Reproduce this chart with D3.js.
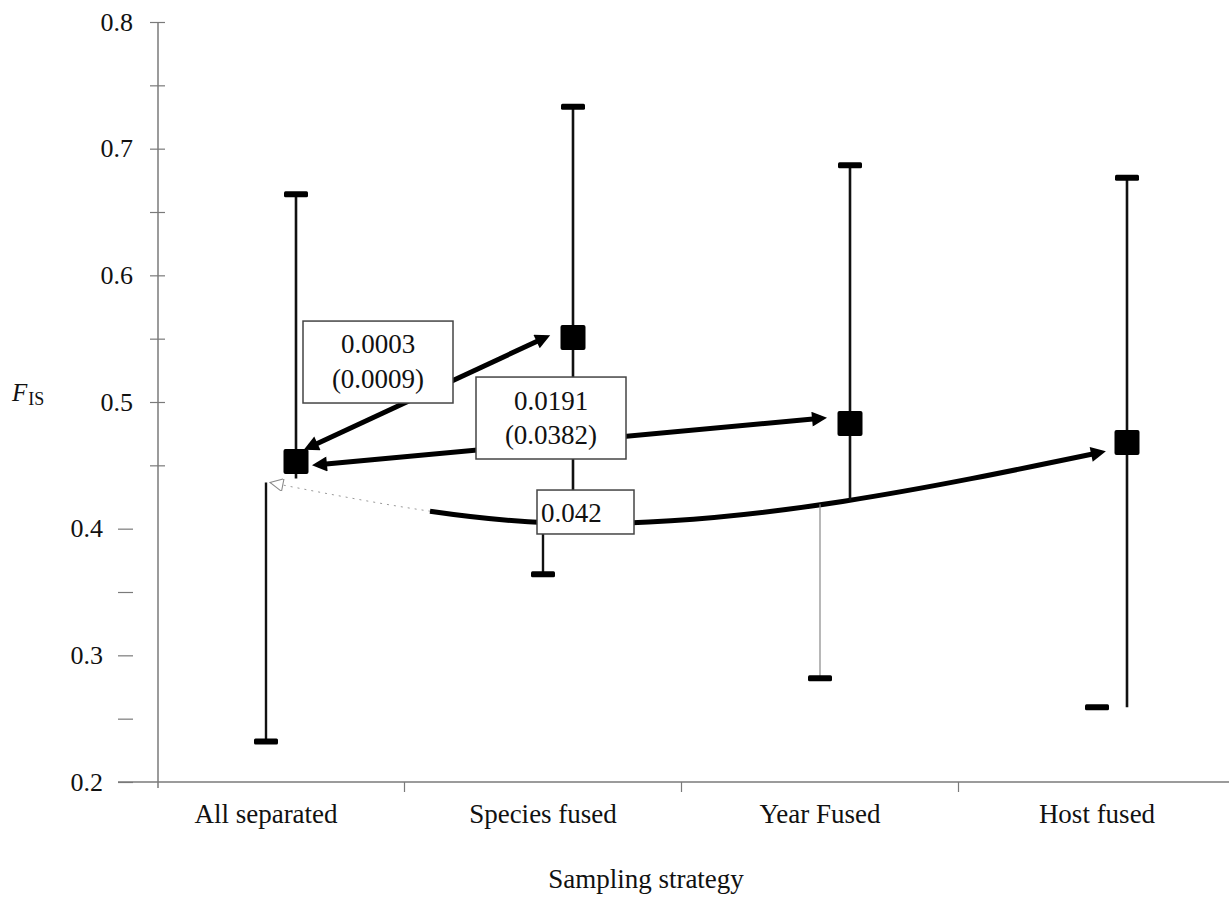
<!DOCTYPE html>
<html>
<head>
<meta charset="utf-8">
<script src="https://cdn.jsdelivr.net/npm/d3@7"></script>
<style>
  body { margin: 0; background: #fff; }
  text { font-family: "Liberation Serif", "Times New Roman", serif; fill: #111; }
</style>
</head>
<body>
<svg id="chart" width="1229" height="898"></svg>
<script>
// F_IS estimates (with their ranges) for each sampling strategy
const categories = ["All separated", "Species fused", "Year Fused", "Host fused"];
const fisMean  = [0.453, 0.551, 0.483, 0.468];
const fisUpper = [0.664, 0.733, 0.687, 0.677];
const fisLower = [0.232, 0.364, 0.282, 0.259];

const majorTicks = [0.2, 0.3, 0.4, 0.5, 0.6, 0.7, 0.8];
const minorTicks = [0.25, 0.35, 0.45, 0.55, 0.65, 0.75];

// pairwise comparisons against "All separated": p-value (corrected p-value)
const compFrom  = [0, 0, 0];
const compTo    = [1, 2, 3];
const compLines = [["0.0003", "(0.0009)"], ["0.0191", "(0.0382)"], ["0.042"]];

const SERIF = '"Liberation Serif", "Times New Roman", serif';
const svg = d3.select("#chart");
const W = 1229, H = 898;

const x = d3.scaleBand().domain(categories).range([127.5, 1235.5]);
const y = d3.scaleLinear().domain([0.2, 0.8]).range([782, 22]);
const xc = i => x(categories[i]) + x.bandwidth() / 2;   // category centre
const markOff = 30;
const xm = i => xc(i) + markOff;                           // point position
const ym = i => y(fisMean[i]);

const isMajor = d => Math.abs(d * 10 - Math.round(d * 10)) < 1e-6;
const fmt = d3.format(".1f");

// ---------- axes ----------
const allTicks = majorTicks.concat(minorTicks).sort(d3.ascending);
const topTicks = allTicks.filter(d => d >= 0.45 - 1e-9);
const lowTicks = allTicks.filter(d => d < 0.45 - 1e-9);

function styleAxis(g) {
  g.attr("font-family", SERIF);
  g.select(".domain").remove();
  g.selectAll(".tick line").attr("stroke", "#7a7a7a").attr("stroke-width", 1.2);
  g.selectAll(".tick text")
    .style("font-family", SERIF)
    .style("font-size", "26px").attr("fill", "#111");
}

svg.append("g")
  .attr("transform", "translate(165,0)")
  .call(d3.axisLeft(y).tickValues(topTicks).tickSize(15).tickPadding(17)
        .tickFormat(d => isMajor(d) ? fmt(d) : ""))
  .call(styleAxis);

svg.append("g")
  .attr("transform", "translate(133,0)")
  .call(d3.axisLeft(y).tickValues(lowTicks).tickSize(15).tickPadding(15)
        .tickFormat(d => isMajor(d) ? fmt(d) : ""))
  .call(styleAxis);

// vertical axis line
svg.append("line")
  .attr("x1", 158).attr("x2", 158)
  .attr("y1", y(0.8)).attr("y2", y(0.2) + 6)
  .attr("stroke", "#7a7a7a").attr("stroke-width", 1.5);

// horizontal axis line and category separators
svg.append("line")
  .attr("x1", 118).attr("x2", W)
  .attr("y1", y(0.2)).attr("y2", y(0.2))
  .attr("stroke", "#7a7a7a").attr("stroke-width", 1.5);

svg.append("g").selectAll("line")
  .data(categories.slice(1))
  .join("line")
  .attr("x1", d => x(d)).attr("x2", d => x(d))
  .attr("y1", y(0.2)).attr("y2", y(0.2) + 10)
  .attr("stroke", "#7a7a7a").attr("stroke-width", 1.2);

svg.append("g").selectAll("text")
  .data(categories)
  .join("text")
  .attr("x", (d, i) => xc(i))
  .attr("y", 823)
  .attr("text-anchor", "middle")
  .style("font-size", "27px")
  .text(d => d);

svg.append("text")
  .attr("x", 646).attr("y", 888)
  .attr("text-anchor", "middle")
  .style("font-size", "27px")
  .text("Sampling strategy");

const yl = svg.append("text").attr("x", 12).attr("y", 401);
yl.append("tspan").style("font-style", "italic").style("font-size", "25px").text("F");
yl.append("tspan").attr("dx", 1).attr("dy", 4).style("font-size", "18px").text("IS");

// ---------- arrow heads ----------
const defs = svg.append("defs");
defs.append("marker")
  .attr("id", "head").attr("viewBox", "0 0 10 10")
  .attr("refX", 6).attr("refY", 5)
  .attr("markerWidth", 4).attr("markerHeight", 3)
  .attr("markerUnits", "strokeWidth")
  .attr("orient", "auto-start-reverse")
  .append("path").attr("d", "M0,0 L10,5 L0,10 z").attr("fill", "#000");
defs.append("marker")
  .attr("id", "headFaint").attr("viewBox", "0 0 10 10")
  .attr("refX", 10).attr("refY", 5)
  .attr("markerWidth", 18).attr("markerHeight", 13)
  .attr("markerUnits", "userSpaceOnUse")
  .attr("orient", "auto-start-reverse")
  .append("path").attr("d", "M0,0 L10,5 L0,10 z")
  .attr("fill", "#fff").attr("stroke", "#888").attr("stroke-width", 0.8);

// ---------- curved comparison (All separated <-> Host fused) ----------
const curvePts = [
  [xc(0) + 4, ym(0) + 21],
  [xc(1) + 42, y(0.4) - 5],
  [xm(3) - 27, ym(3) + 10]
];
const curveLine = d3.line().curve(d3.curveMonotoneX);
const curveD = curveLine(curvePts);

const faint = svg.append("path")
  .attr("d", curveD)
  .attr("fill", "none").attr("stroke", "#999").attr("stroke-width", 1)
  .attr("marker-start", "url(#headFaint)");

const pathNode = faint.node();
const total = pathNode.getTotalLength();
let lo = 0, hi = total;
for (let k = 0; k < 40; k++) {
  const mid = (lo + hi) / 2;
  if (pathNode.getPointAtLength(mid).x < 430) lo = mid; else hi = mid;
}
const fadeLen = lo;
// dotted faint run up to where the solid stroke begins
faint.attr("stroke-dasharray",
  d3.range(0, fadeLen, 7).map(() => "2,5").join(",") + "," + (total * 2));

svg.append("path")
  .attr("d", curveD)
  .attr("fill", "none").attr("stroke", "#000").attr("stroke-width", 5)
  .attr("stroke-dasharray", `0,${fadeLen},${total}`)
  .attr("marker-end", "url(#head)");

// curve height at a given x (where an error bar breaks)
function curveYAt(px) {
  const p0 = pathNode.getPointAtLength(0), p1 = pathNode.getPointAtLength(total);
  if (px < p0.x || px > p1.x) return null;
  let a = 0, b = total;
  for (let k = 0; k < 40; k++) {
    const m = (a + b) / 2;
    if (pathNode.getPointAtLength(m).x < px) a = m; else b = m;
  }
  return pathNode.getPointAtLength(a).y;
}

// ---------- error bars ----------
const bars = svg.append("g");
categories.forEach((c, i) => {
  const top = y(fisUpper[i]), bot = y(fisLower[i]);
  let split = curveYAt(xm(i));
  if (split === null) split = bot;
  if (i === 0) split = ym(i) + 17;
  const faintLower = i === 2;
  bars.append("line")
    .attr("x1", xm(i)).attr("x2", xm(i)).attr("y1", top).attr("y2", split)
    .attr("stroke", "#111").attr("stroke-width", 2.6);
  if (split < bot - 1) {
    bars.append("line")
      .attr("x1", xc(i)).attr("x2", xc(i)).attr("y1", split + 4).attr("y2", bot)
      .attr("stroke", faintLower ? "#888" : "#111")
      .attr("stroke-width", faintLower ? 1.2 : 2.4);
  }
  bars.append("rect")
    .attr("x", xm(i) - 12).attr("y", top - 3).attr("width", 24).attr("height", 6)
    .attr("rx", 1.5).attr("fill", "#000");
  bars.append("rect")
    .attr("x", xc(i) - 12).attr("y", bot - 3).attr("width", 24).attr("height", 6)
    .attr("rx", 1.5).attr("fill", "#000");
});

// ---------- straight comparison arrows ----------
function shorten(p, q, d) {
  const dx = q[0] - p[0], dy = q[1] - p[1], L = Math.hypot(dx, dy);
  return [p[0] + dx / L * d, p[1] + dy / L * d];
}
const straightEnds = [
  [[xm(0) + 6, ym(0) - 11], [xm(1) - 21, ym(1) - 3]],
  [[xm(0) + 14, ym(0) + 4], [xm(2) - 21, ym(2) - 6]]
];
straightEnds.forEach(([a, b]) => {
  const s = shorten(a, b, 8), e = shorten(b, a, 8);
  svg.append("line")
    .attr("x1", s[0]).attr("y1", s[1]).attr("x2", e[0]).attr("y2", e[1])
    .attr("stroke", "#000").attr("stroke-width", 5)
    .attr("marker-start", "url(#head)").attr("marker-end", "url(#head)");
});

// ---------- comparison labels ----------
const boxes = [
  { x0: xc(0) + 37, x1: xc(0) + 187, top: 0.5639, bot: 0.4992, align: "middle", base: [353, 388] },
  { x0: xc(1) - 67, x1: xc(1) + 83,  top: 0.5197, bot: 0.4550, align: "middle", base: [410, 444] },
  { x0: xc(1) - 6,  x1: xc(1) + 91,  top: 0.4305, bot: 0.3958, align: "start",  base: [522] }
];
boxes.forEach((b, k) => {
  const g = svg.append("g");
  g.append("rect")
    .attr("x", b.x0).attr("y", y(b.top))
    .attr("width", b.x1 - b.x0).attr("height", y(b.bot) - y(b.top))
    .attr("fill", "#fff").attr("stroke", "#444").attr("stroke-width", 1.5);
  compLines[k].forEach((t, j) => {
    g.append("text")
      .attr("x", b.align === "middle" ? (b.x0 + b.x1) / 2 : b.x0 + 4)
      .attr("y", b.base[j])
      .attr("text-anchor", b.align)
      .style("font-size", "27px")
      .text(t);
  });
});

// ---------- points ----------
svg.append("g").selectAll("rect")
  .data(fisMean)
  .join("rect")
  .attr("x", (d, i) => xm(i) - 12.5)
  .attr("y", d => y(d) - 12.5)
  .attr("width", 25).attr("height", 25)
  .attr("rx", 2)
  .attr("fill", "#000");
</script>
</body>
</html>
